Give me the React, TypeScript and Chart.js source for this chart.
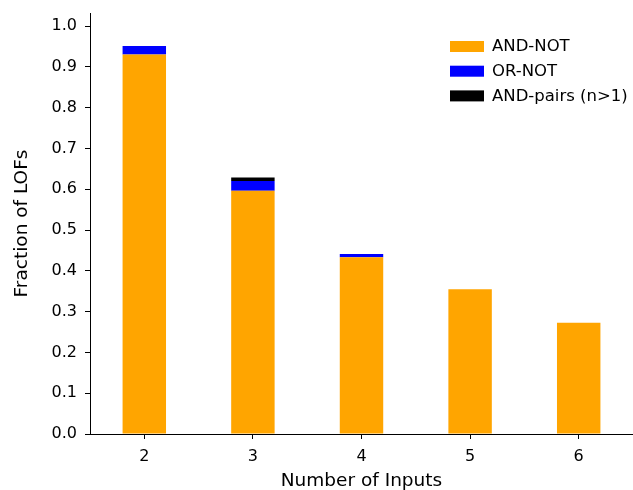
import React, { useEffect, useRef } from "react";
import { Chart, registerables } from "chart.js";

Chart.register(...registerables);

const categories = ["2", "3", "4", "5", "6"];
const andNot = [0.93, 0.596, 0.433, 0.355, 0.273];
const orNot = [0.021, 0.024, 0.008, 0, 0];
const andPairs = [0, 0.009, 0, 0, 0];
const yTicks = [0, 0.1, 0.2, 0.3, 0.4, 0.5, 0.6, 0.7, 0.8, 0.9, 1.0];

const FONT = "'DejaVu Sans', sans-serif";

const legendPlugin = {
  id: "mplLegend",
  afterDraw(chart: any) {
    const ctx = chart.ctx;
    const ds = chart.data.datasets;
    ctx.save();
    ctx.font = `16.5px ${FONT}`;
    ctx.textBaseline = "middle";
    ds.forEach((d: any, i: number) => {
      const y = 46.5 + i * 24.7;
      ctx.fillStyle = d.backgroundColor;
      ctx.fillRect(450, y - 5.5, 34, 11);
      ctx.fillStyle = "#000";
      ctx.fillText(d.label, 492, y + 0.5);
    });
    ctx.restore();
  },
};

export default function App() {
  const ref = useRef<HTMLCanvasElement | null>(null);
  useEffect(() => {
    if (!ref.current) return;
    const chart = new Chart(ref.current, {
      type: "bar",
      data: {
        labels: categories,
        datasets: [
          { label: "AND-NOT", data: andNot, backgroundColor: "#FFA500" },
          { label: "OR-NOT", data: orNot, backgroundColor: "#0000FF" },
          { label: "AND-pairs (n>1)", data: andPairs, backgroundColor: "#000000" },
        ],
      },
      plugins: [legendPlugin],
      options: {
        animation: false,
        responsive: false,
        maintainAspectRatio: false,
        layout: { padding: { top: 13, right: 0, left: 0, bottom: 0 } },
        datasets: { bar: { barPercentage: 0.4, categoryPercentage: 1.0, borderWidth: 0 } },
        plugins: { legend: { display: false }, tooltip: { enabled: false } },
        scales: {
          x: {
            stacked: true,
            afterFit(axis: any) {
              axis.height = 56;
              axis.paddingLeft = 0;
              axis.paddingRight = 0;
            },
            grid: { display: true, offset: false, drawOnChartArea: false, tickLength: 5, tickColor: "#000", tickWidth: 1 },
            border: { color: "#000", width: 1 },
            ticks: { color: "#000", font: { family: FONT, size: 16 }, padding: 8, maxRotation: 0 },
            title: {
              display: true,
              text: "Number of Inputs",
              color: "#000",
              font: { family: FONT, size: 18.5, lineHeight: 1 },
              padding: 0,
            },
          },
          y: {
            stacked: true,
            min: 0,
            max: 1.032,
            afterFit(axis: any) {
              axis.width = 90;
              axis.paddingTop = 0;
              axis.paddingBottom = 0;
            },
            afterBuildTicks(axis: any) {
              axis.ticks = yTicks.map((v) => ({ value: v }));
            },
            grid: { display: true, drawOnChartArea: false, tickLength: 5, tickColor: "#000", tickWidth: 1 },
            border: { color: "#000", width: 1 },
            ticks: {
              color: "#000",
              font: { family: FONT, size: 16 },
              padding: 8,
              callback: (v: any) => Number(v).toFixed(1),
            },
            title: {
              display: true,
              text: "Fraction of LOFs",
              color: "#000",
              font: { family: FONT, size: 18.5, lineHeight: 1 },
              padding: { top: 12.75, bottom: 12.75 },
            },
          },
        },
      },
    });
    return () => chart.destroy();
  }, []);
  return (
    <div style={{ position: "fixed", left: 0, top: 0, width: 633, height: 490, background: "#fff" }}>
      <canvas ref={ref} width={633} height={490} style={{ width: 633, height: 490 }} />
    </div>
  );
}
